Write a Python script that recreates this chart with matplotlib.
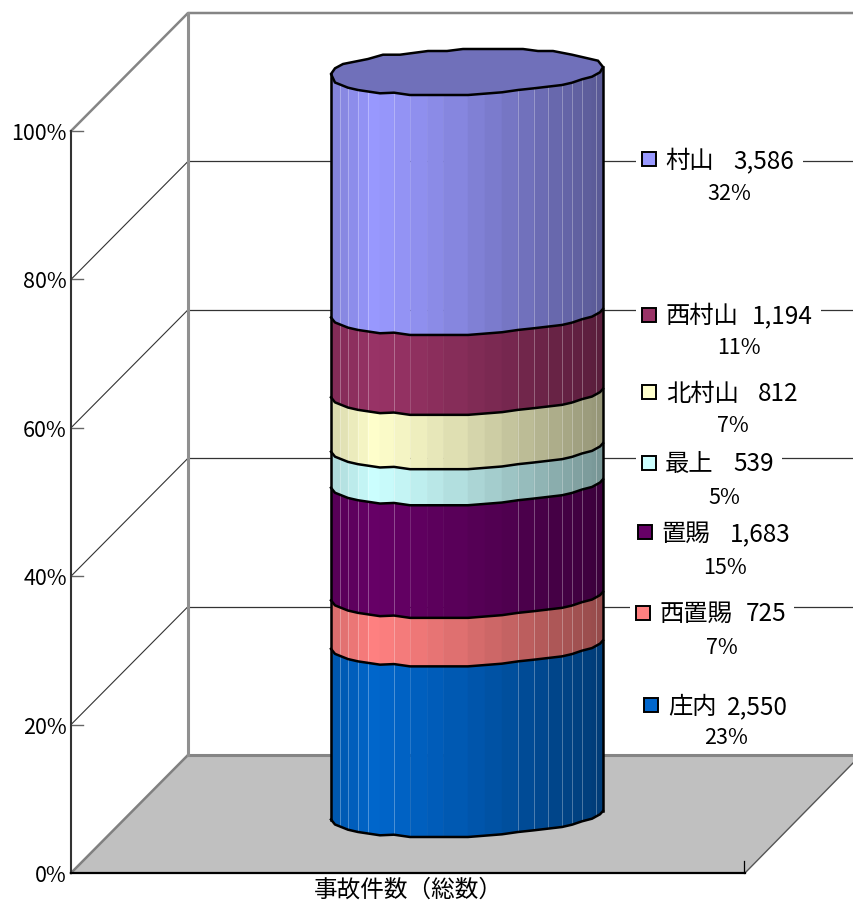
import numpy as np
import matplotlib
matplotlib.use("Agg")
import matplotlib.pyplot as plt
from matplotlib.colors import to_rgb
from matplotlib.patches import Polygon, Rectangle

plt.rcParams['font.family'] = ['Noto Sans CJK JP', 'DejaVu Sans']

# data, bottom of the stack first
regions = ["庄内", "西置賜", "置賜", "最上", "北村山", "西村山", "村山"]
counts = [2550, 725, 1683, 539, 812, 1194, 3586]
shares = ["23%", "7%", "15%", "5%", "7%", "11%", "32%"]
colors = ["#0066CC", "#FF8080", "#660066", "#CCFFFF", "#FFFFCC", "#993366", "#9999FF"]
count_labels = ["2,550", "725", "1,683", "539", "812", "1,194", "3,586"]
ticks = [0, 20, 40, 60, 80, 100]
xlabel = "事故件数（総数）"

# 3d box layout in pixels
PX = 7.42
X0, Y0 = 71, 873
BX, BY = 188, 755
RIGHT = 854
FLOOR_R = 745
CX, CY = 467, 814

# the cylinder outline is a rough polygon, offsets from its centre
front_dx = [-136, -132, -119, -109, -87, -73, -57, 1, 35, 51, 67, 95, 105, 115, 125, 133, 136]
front_dy = [5.5, 10.5, 15.7, 18, 21.3, 20.7, 23, 23, 20.3, 18, 16.3, 13, 10.7, 7.3, 4.7, 0.3, -3]
back_dx = [131, 105, 86, 71, 56, -4, -20, -39, -67, -84, -99, -124, -132]
back_dy = [-11.3, -17.3, -21, -21, -23, -23, -21, -21, -17.3, -17.3, -13, -8, -3.7]

# facet edges across the front and how much each facet is shaded
facet_x = [331, 333, 340, 348, 358, 368, 380, 394, 410, 427, 443, 468, 485, 502,
           518, 534, 548, 562, 572, 582, 592, 596, 603]
light_x = [340, 348, 358, 368, 394, 518, 534, 548, 562, 572, 582, 596]
shade_x = [331, 375, 395, 470, 520, 603]
shade_v = [0.84, 1.0, 0.97, 0.85, 0.75, 0.58]

# legend placing: marker x, marker y, name x, count x, text y, share x, share y, white gap
legend_pos = {
    "村山": (642, 158.5, 665, 733, 160, 729, 192, 636, 803),
    "西村山": (642, 315, 666, 752, 315, 739, 347, 636, 821),
    "北村山": (642, 392, 666, 758, 393, 733, 425, 636, 810),
    "最上": (642, 462.5, 665, 733, 463, 724, 496, 636, 782),
    "置賜": (638, 532, 661, 730, 533, 725, 566, 632, 795),
    "西置賜": (636.5, 612.5, 660, 746, 613, 722, 646, 630, 794),
    "庄内": (644, 704.5, 668, 727, 706, 726, 737, 638, 795),
}


def y_of(p):
    return Y0 - PX * p


def edge_y(x, p):
    # y of the front edge of the cylinder at height p percent
    return CY - PX * p + np.interp(x - CX, front_dx, front_dy)


def shaded(color, k):
    return tuple(c * k for c in to_rgb(color))


fig = plt.figure(figsize=(8.54, 9.06), dpi=100)
ax = fig.add_axes([0, 0, 1, 1])
ax.set_xlim(0, 854)
ax.set_ylim(906, 0)
ax.axis('off')

# floor
ax.add_patch(Polygon([(X0, Y0), (BX, BY), (RIGHT, BY), (RIGHT, BY + 7), (FLOOR_R, Y0)],
                     facecolor="#C0C0C0", edgecolor="none", zorder=1))
ax.plot([X0, BX], [Y0, BY], color="#808080", lw=1.8, zorder=2)
ax.plot([BX, RIGHT], [BY, BY], color="#858585", lw=2.2, zorder=2)
ax.plot([FLOOR_R, RIGHT], [Y0, BY + 7], color="#555555", lw=1.0, zorder=2)

# walls and grid
depth = Y0 - BY
for t in ticks[1:-1]:
    ax.plot([X0 + 12, X0], [y_of(t), y_of(t)], color="#666666", lw=1.0, zorder=2)
    ax.plot([X0, BX], [y_of(t), y_of(t) - depth], color="#333333", lw=0.8, zorder=2)
    ax.plot([BX, RIGHT], [y_of(t) - depth, y_of(t) - depth], color="#333333", lw=0.9, zorder=2)
ax.plot([X0, X0 + 12], [y_of(100), y_of(100)], color="#666666", lw=1.0, zorder=2)
ax.plot([X0, BX, RIGHT], [y_of(100), y_of(100) - depth, y_of(100) - depth],
        color="#858585", lw=1.8, zorder=2)
ax.plot([BX, BX], [BY, y_of(100) - depth], color="#909090", lw=2.2, zorder=2)
ax.plot([X0, X0], [Y0, y_of(100)], color="#333333", lw=1.5, zorder=3)
ax.plot([X0, FLOOR_R], [Y0, Y0], color="black", lw=1.6, zorder=3)
ax.plot([FLOOR_R - 1, FLOOR_R - 1], [Y0, Y0 - 12], color="black", lw=0.9, zorder=3)

for t in ticks:
    ax.text(X0 - 4, y_of(t) + 3, f"{t}%", ha='right', va='center', fontsize=15.5, zorder=6)
ax.text(408, 890, xlabel, ha='center', va='center', fontsize=17, zorder=6)

# stacked cylinder
pct = np.array(counts) / sum(counts) * 100
tops = np.cumsum(pct)
bottoms = tops - pct
xs = np.array(facet_x, dtype=float)
for b, t, col in zip(bottoms, tops, colors):
    for x1, x2 in zip(xs[:-1], xs[1:]):
        k = np.interp((x1 + x2) / 2, shade_x, shade_v)
        c = shaded(col, k)
        ax.add_patch(Polygon([(x1, edge_y(x1, b)), (x2, edge_y(x2, b)),
                              (x2, edge_y(x2, t)), (x1, edge_y(x1, t))],
                             facecolor=c, edgecolor=c, lw=0.4, zorder=4))
    for x1 in light_x:
        ax.plot([x1, x1], [edge_y(x1, b), edge_y(x1, t)], color="white", lw=0.7,
                alpha=0.3, zorder=4.2)

# top face, its left and right corners sit a little higher than the bands below
top_y = CY - PX * 100
top_pts = [(CX + dx, top_y + dy) for dx, dy in zip(front_dx, front_dy)]
top_pts[0] = (CX + front_dx[0], top_y + 2)
top_pts[-1] = (CX + front_dx[-1], top_y - 5)
top_pts += [(CX + dx, top_y + dy) for dx, dy in zip(back_dx, back_dy)]
ax.add_patch(Polygon(top_pts, closed=True, facecolor=shaded(colors[-1], 0.73),
                     edgecolor="black", lw=1.8, zorder=5))

# black outlines
line_x = np.array(front_dx, dtype=float) + CX
for p in list(bottoms):
    ax.plot(line_x, [edge_y(x, p) for x in line_x], color="black", lw=1.8, zorder=5)
for edge, corner in ((line_x[0], 2), (line_x[-1], -5)):
    ax.plot([edge, edge], [edge_y(edge, 0), top_y + corner], color="black", lw=1.8, zorder=5)

# data labels with their legend keys
for name, n, share, col in zip(regions, count_labels, shares, colors):
    mx, my, nx, cx, ty, sx, sy, g0, g1 = legend_pos[name]
    ax.add_patch(Rectangle((g0, ty - 14), g1 - g0, 28, facecolor="white",
                           edgecolor="none", zorder=3))
    ax.add_patch(Rectangle((mx, my - 7), 14, 14, facecolor=col, edgecolor="black",
                           lw=1.4, zorder=6))
    ax.text(nx, ty + 1, name, ha='left', va='center', fontsize=17.5, zorder=6)
    ax.text(cx, ty + 1, n, ha='left', va='center', fontsize=17.5, zorder=6)
    ax.text(sx, sy + 1.5, share, ha='center', va='center', fontsize=15.5, zorder=6)

fig.savefig("out.png", dpi=100)
